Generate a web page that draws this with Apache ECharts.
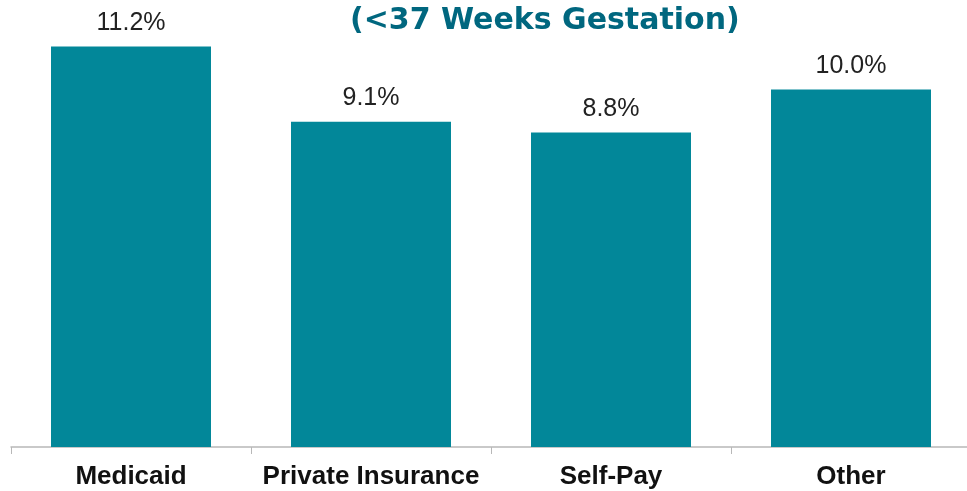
<!DOCTYPE html>
<html>
<head>
<meta charset="utf-8">
<script src="https://cdn.jsdelivr.net/npm/echarts@6/dist/echarts.min.js"></script>
<style>
html, body { margin: 0; padding: 0; background: #fff; }
#main { width: 967px; height: 491px; }
</style>
</head>
<body>
<div id="main"></div>
<script>
var categories = ['Medicaid', 'Private Insurance', 'Self-Pay', 'Other'];
var values = [11.2, 9.1, 8.8, 10.0];

var chart = echarts.init(document.getElementById('main'));
var option = {
    animation: false,
    title: {
        text: '(<37 Weeks Gestation)',
        left: 345,
        top: 1,
        textStyle: {
            fontFamily: 'DejaVu Sans',
            fontSize: 30,
            fontWeight: 'bold',
            color: '#00677f'
        }
    },
    grid: {
        top: 18,
        bottom: 44,
        left: 11,
        width: 960,
        outerBoundsMode: 'none'
    },
    xAxis: {
        type: 'category',
        data: categories,
        axisLine: { lineStyle: { color: '#b8b8b8', width: 1.5 } },
        axisTick: { show: true, length: 7, lineStyle: { color: '#b8b8b8' } },
        axisLabel: {
            interval: 0,
            margin: 17,
            fontFamily: 'Liberation Sans, Arial',
            fontSize: 26,
            fontWeight: 'bold',
            color: '#111'
        }
    },
    yAxis: {
        type: 'value',
        min: 0,
        max: 12,
        show: false,
        splitLine: { show: false }
    },
    series: [{
        type: 'bar',
        data: values,
        barWidth: 160,
        itemStyle: { color: '#028799' },
        label: {
            show: true,
            position: 'top',
            distance: 11,
            fontFamily: 'Liberation Sans, Arial',
            fontSize: 25,
            color: '#222',
            formatter: function (p) { return p.value.toFixed(1) + '%'; }
        }
    }]
};
chart.setOption(option);
</script>
</body>
</html>
